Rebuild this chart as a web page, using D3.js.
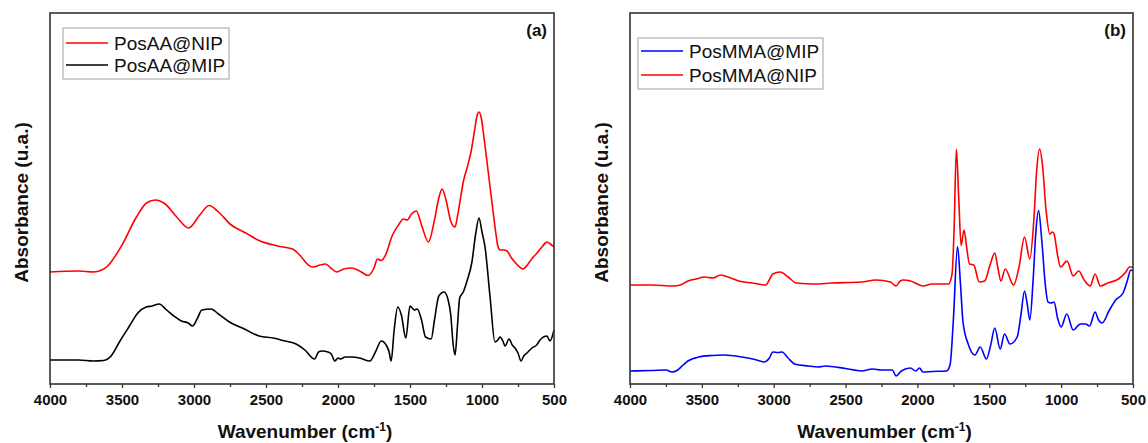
<!DOCTYPE html>
<html><head><meta charset="utf-8">
<script src="https://cdn.jsdelivr.net/npm/d3@7"></script>
<style>
html,body{margin:0;padding:0;background:#fff;}
svg{display:block;font-family:"Liberation Sans",Arial,sans-serif;}
</style></head>
<body>
<svg id="chart" width="1148" height="443"></svg>
<script>
// ---------- DATA ----------
const xTicks = [4000, 3500, 3000, 2500, 2000, 1500, 1000, 500];
const yLabel = "Absorbance (u.a.)";
const xLabel = "Wavenumber (cm";

// Panel (a) PosAA@NIP (red)
const aNipWn  = [4000,3800,3700,3640,3600,3500,3400,3330,3268,3200,3120,3037,2960,2895,2830,2741,2640,2548,2420,2316,2260,2214,2176,2125,2086,2050,2009,1960,1906,1850,1790,1750,1726,1700,1670,1623,1580,1546,1520,1490,1456,1420,1372,1330,1300,1277,1250,1215,1187,1170,1150,1130,1100,1075,1050,1035,1021,1005,985,965,945,925,905,890,875,850,826,800,760,715,680,650,618,590,560,549,525,500];
const aNipAbs = [1.12,1.13,1.12,1.14,1.18,1.39,1.67,1.81,1.84,1.80,1.67,1.56,1.69,1.785,1.72,1.59,1.51,1.435,1.38,1.35,1.28,1.20,1.17,1.19,1.20,1.16,1.12,1.15,1.16,1.13,1.085,1.16,1.25,1.235,1.29,1.485,1.59,1.65,1.64,1.70,1.73,1.59,1.42,1.64,1.86,1.95,1.84,1.62,1.57,1.68,1.85,2.02,2.18,2.33,2.55,2.68,2.72,2.66,2.45,2.22,1.98,1.75,1.52,1.38,1.34,1.34,1.33,1.27,1.20,1.15,1.20,1.26,1.31,1.36,1.41,1.42,1.40,1.37];

// Panel (a) PosAA@MIP (black)
const aMipWn  = [4000,3800,3700,3627,3576,3510,3448,3390,3332,3290,3242,3190,3140,3088,3040,3011,2975,2946,2882,2830,2754,2650,2548,2450,2368,2291,2230,2163,2135,2111,2070,2047,2022,2000,1983,1950,1906,1850,1778,1740,1700,1662,1645,1631,1610,1585,1560,1529,1500,1485,1470,1450,1420,1392,1353,1330,1300,1263,1235,1217,1200,1187,1170,1155,1130,1104,1070,1045,1021,1000,979,944,910,890,875,855,840,812,790,771,750,729,710,688,653,620,597,549,528,500];
const aMipAbs = [0.24,0.24,0.23,0.235,0.28,0.44,0.58,0.71,0.77,0.78,0.80,0.74,0.68,0.63,0.61,0.58,0.66,0.74,0.75,0.70,0.62,0.55,0.48,0.46,0.43,0.40,0.34,0.25,0.32,0.33,0.32,0.30,0.23,0.26,0.25,0.27,0.27,0.26,0.23,0.32,0.43,0.38,0.32,0.23,0.54,0.77,0.69,0.46,0.78,0.76,0.74,0.75,0.64,0.47,0.45,0.64,0.88,0.92,0.84,0.69,0.39,0.29,0.59,0.86,0.92,1.03,1.22,1.49,1.66,1.52,1.37,0.87,0.42,0.44,0.47,0.43,0.38,0.45,0.39,0.36,0.31,0.23,0.28,0.31,0.36,0.39,0.44,0.48,0.43,0.54];

// Panel (b) PosMMA@MIP (blue)
const bMipWn  = [4000,3850,3748,3710,3673,3630,3597,3522,3430,3345,3220,3130,3068,3030,3006,2970,2942,2900,2854,2760,2690,2640,2500,2388,2313,2250,2174,2149,2112,2049,2011,1986,1961,1900,1797,1772,1750,1721,1700,1683,1647,1600,1563,1520,1490,1462,1424,1394,1356,1306,1280,1255,1235,1218,1195,1175,1157,1135,1110,1092,1070,1049,1025,1000,961,916,866,830,802,764,740,715,664,620,569,540,515,500];
const bMipAbs = [0.13,0.135,0.14,0.12,0.135,0.19,0.23,0.27,0.285,0.29,0.27,0.245,0.22,0.26,0.32,0.315,0.32,0.26,0.20,0.18,0.17,0.18,0.155,0.13,0.15,0.14,0.14,0.08,0.13,0.16,0.13,0.16,0.12,0.125,0.13,0.20,0.64,1.375,0.99,0.62,0.40,0.29,0.37,0.25,0.39,0.56,0.35,0.50,0.40,0.47,0.69,0.93,0.79,0.64,1.04,1.54,1.735,1.44,0.99,0.82,0.81,0.82,0.66,0.57,0.70,0.54,0.60,0.60,0.58,0.72,0.64,0.61,0.74,0.84,0.91,1.03,1.14,1.13];

// Panel (b) PosMMA@NIP (red)
const bNipWn  = [4000,3850,3698,3650,3597,3540,3484,3421,3371,3300,3245,3150,3056,3006,2955,2900,2842,2716,2600,2388,2288,2187,2149,2120,2099,2048,2000,1961,1900,1784,1759,1745,1729,1712,1696,1676,1655,1638,1608,1570,1532,1495,1462,1440,1419,1389,1331,1293,1255,1218,1190,1170,1150,1130,1105,1079,1060,1049,1025,1004,959,916,878,840,798,764,727,676,601,550,525,500];
const bNipAbs = [0.99,0.99,0.98,0.99,1.03,1.05,1.07,1.06,1.09,1.06,1.03,1.01,0.99,1.10,1.12,1.07,1.01,1.00,1.01,1.02,1.04,1.02,0.98,1.03,1.04,1.03,1.00,0.98,1.00,1.00,1.10,1.54,2.35,1.84,1.385,1.54,1.34,1.20,1.19,1.02,1.03,1.19,1.31,1.16,1.03,1.15,0.99,1.17,1.47,1.25,1.64,2.14,2.35,2.19,1.74,1.50,1.52,1.50,1.29,1.17,1.23,1.08,1.13,1.04,0.98,1.10,0.98,1.01,1.05,1.12,1.17,1.17];

const panels = [
  {left: 50, right: 554, tag: "(a)",
   series: [
     {name: "PosAA@NIP", color: "#ff0000", wn: aNipWn, abs: aNipAbs},
     {name: "PosAA@MIP", color: "#000000", wn: aMipWn, abs: aMipAbs}],
   legend: {x: 63, y: 28, w: 166, h: 51, row0: 43, row1: 65}},
  {left: 630, right: 1133, tag: "(b)",
   series: [
     {name: "PosMMA@MIP", color: "#0000ff", wn: bMipWn, abs: bMipAbs},
     {name: "PosMMA@NIP", color: "#ff0000", wn: bNipWn, abs: bNipAbs}],
   legend: {x: 638, y: 38, w: 185, h: 51, row0: 51, row1: 75}}
];

// ---------- DRAW ----------
const svg = d3.select("#chart");
const plotTop = 13, plotBottom = 384;

panels.forEach(p => {
  const x = d3.scaleLinear().domain([4000, 500]).range([p.left, p.right]);
  const y = d3.scaleLinear().domain([0, 3.71]).range([plotBottom, plotTop]);
  const g = svg.append("g");

  // series
  p.series.forEach(s => {
    const pts = s.wn.map((w, i) => [w, s.abs[i]]);
    g.append("path")
      .datum(pts)
      .attr("fill", "none")
      .attr("stroke", s.color)
      .attr("stroke-width", 1.6)
      .attr("stroke-linejoin", "round")
      .attr("d", d3.line().x(d => x(d[0])).y(d => y(d[1])).curve(d3.curveMonotoneX));
  });

  // minor ticks
  const minor = d3.range(4000, 499, -250).filter(v => v % 500 !== 0);
  const ax = d3.axisBottom(x).tickValues(minor).tickSize(3).tickFormat("");
  const gm = g.append("g").attr("transform", `translate(0,${plotBottom})`).call(ax);
  gm.select(".domain").remove();
  gm.selectAll("line").attr("stroke", "#333").attr("stroke-width", 1.3);

  const axMaj = d3.axisBottom(x).tickValues(xTicks).tickSize(4).tickPadding(6).tickFormat(d3.format("d"));
  const ga = g.append("g").attr("transform", `translate(0,${plotBottom})`).call(axMaj);
  ga.select(".domain").remove();
  ga.selectAll("line").attr("stroke", "#333").attr("stroke-width", 1.3);
  ga.selectAll("text").attr("font-size", 15).attr("font-weight", "bold")
    .attr("fill", "#111").attr("font-family", "'Liberation Sans',Arial,sans-serif");

  // frame
  g.append("rect").attr("x", p.left).attr("y", plotTop)
    .attr("width", p.right - p.left).attr("height", plotBottom - plotTop)
    .attr("fill", "none").attr("stroke", "#333").attr("stroke-width", 1.6);

  // tag
  g.append("text").attr("x", p.right - 7).attr("y", 36)
    .attr("text-anchor", "end").attr("font-size", 17).attr("font-weight", "bold")
    .attr("fill", "#111").text(p.tag);

  // y label
  g.append("text")
    .attr("transform", `translate(${p.left - 22},${(plotTop + plotBottom) / 2 + 4}) rotate(-90)`)
    .attr("text-anchor", "middle").attr("font-size", 19).attr("font-weight", "bold")
    .attr("fill", "#111").text(yLabel);

  // x label
  const xl = g.append("text")
    .attr("x", (p.left + p.right) / 2 + 3).attr("y", 438)
    .attr("text-anchor", "middle").attr("font-size", 19).attr("font-weight", "bold")
    .attr("fill", "#111");
  xl.append("tspan").text(xLabel);
  xl.append("tspan").attr("dy", -7).attr("font-size", 12).text("-1");
  xl.append("tspan").attr("dy", 7).text(")");

  // legend
  const L = p.legend;
  g.append("rect").attr("x", L.x).attr("y", L.y).attr("width", L.w).attr("height", L.h)
    .attr("fill", "#fff").attr("stroke", "#b0b0b0").attr("stroke-width", 1.2);
  p.series.forEach((s, i) => {
    const ry = i === 0 ? L.row0 : L.row1;
    g.append("line").attr("x1", L.x + 3).attr("x2", L.x + 45)
      .attr("y1", ry).attr("y2", ry).attr("stroke", s.color).attr("stroke-width", 1.6);
    g.append("text").attr("x", L.x + 51).attr("y", ry + 6.5)
      .attr("font-size", 19).attr("fill", "#111").text(s.name);
  });
});
</script>
</body></html>
